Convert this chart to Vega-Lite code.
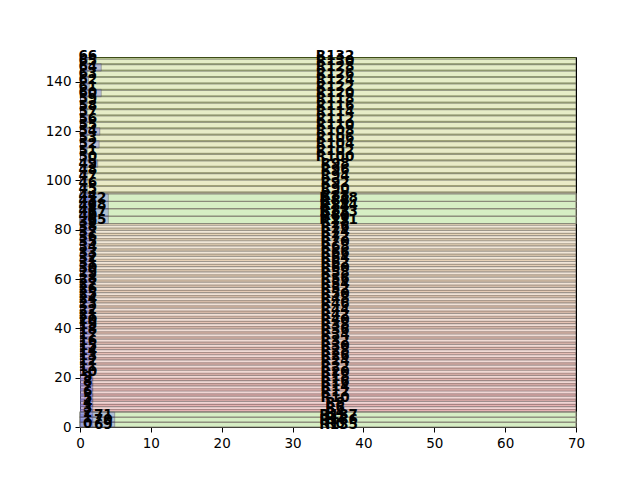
{
 "$schema": "https://vega.github.io/schema/vega-lite/v6.json",
 "width": 496, "height": 370,
 "autosize": {"type": "none"},
 "padding": {"left": 80, "top": 57, "right": 64, "bottom": 53},
 "config": {
  "view": {"stroke": "black", "strokeWidth": 1},
  "scale": {"continuousPadding": 0},
  "axis": {"labelFont": "DejaVu Sans", "labelFontSize": 13.5, "labelColor": "black", "tickColor": "black", "tickSize": 5, "tickWidth": 1, "labelPadding": 4, "labelFlush": false, "labelOverlap": false, "grid": false, "domain": false, "title": null},
  "text": {"font": "DejaVu Sans", "fontWeight": "bold", "fontSize": 13.5, "baseline": "middle"}
 },
 "datasets": {
  "a": [
   {"n":0,"r":"R0","c":1.4,"y0":-0.1,"y1":2.9,"v":1.8},{"n":1,"r":"R2","c":3.5,"y0":2.0,"y1":5.0,"v":1.8},{"n":2,"r":"R4","c":5.6,"y0":4.1,"y1":7.1,"v":1.8},{"n":3,"r":"R6","c":7.7,"y0":6.2,"y1":9.2,"v":1.8},{"n":4,"r":"R8","c":9.8,"y0":8.3,"y1":11.3,"v":1.8},
   {"n":5,"r":"R10","c":11.9,"y0":10.4,"y1":13.4,"v":1.8},{"n":6,"r":"R12","c":14.0,"y0":12.5,"y1":15.5,"v":1.8},{"n":7,"r":"R14","c":16.1,"y0":14.6,"y1":17.6,"v":1.8},{"n":8,"r":"R16","c":18.2,"y0":16.7,"y1":19.7,"v":1.8},{"n":9,"r":"R18","c":20.3,"y0":18.8,"y1":21.8,"v":1.8},
   {"n":10,"r":"R20","c":22.4,"y0":20.9,"y1":23.9,"v":1.8},{"n":11,"r":"R22","c":24.5,"y0":23.0,"y1":26.0,"v":1.8},{"n":12,"r":"R24","c":26.6,"y0":25.1,"y1":28.1,"v":1.8},{"n":13,"r":"R26","c":28.7,"y0":27.2,"y1":30.2,"v":1.8},{"n":14,"r":"R28","c":30.8,"y0":29.3,"y1":32.3,"v":1.8},
   {"n":15,"r":"R30","c":32.9,"y0":31.4,"y1":34.4,"v":1.8},{"n":16,"r":"R32","c":35.0,"y0":33.5,"y1":36.5,"v":1.8},{"n":17,"r":"R34","c":37.1,"y0":35.6,"y1":38.6,"v":1.8},{"n":18,"r":"R36","c":39.2,"y0":37.7,"y1":40.7,"v":1.8},{"n":19,"r":"R38","c":41.3,"y0":39.8,"y1":42.8,"v":1.8},
   {"n":20,"r":"R40","c":43.4,"y0":41.9,"y1":44.9,"v":1.8},{"n":21,"r":"R42","c":45.5,"y0":44.0,"y1":47.0,"v":1.8},{"n":22,"r":"R44","c":47.6,"y0":46.1,"y1":49.1,"v":1.8},{"n":23,"r":"R46","c":49.7,"y0":48.2,"y1":51.2,"v":1.8},{"n":24,"r":"R48","c":51.8,"y0":50.3,"y1":53.3,"v":1.8},
   {"n":25,"r":"R50","c":53.9,"y0":52.4,"y1":55.4,"v":1.8},{"n":26,"r":"R52","c":56.0,"y0":54.5,"y1":57.5,"v":1.8},{"n":27,"r":"R54","c":58.1,"y0":56.6,"y1":59.6,"v":1.8},{"n":28,"r":"R56","c":60.2,"y0":58.7,"y1":61.7,"v":1.8},{"n":29,"r":"R58","c":62.3,"y0":60.8,"y1":63.8,"v":1.8},
   {"n":30,"r":"R60","c":64.4,"y0":62.9,"y1":65.9,"v":1.8},{"n":31,"r":"R62","c":66.5,"y0":65.0,"y1":68.0,"v":1.8},{"n":32,"r":"R64","c":68.6,"y0":67.1,"y1":70.1,"v":1.8},{"n":33,"r":"R66","c":70.7,"y0":69.2,"y1":72.2,"v":1.8},{"n":34,"r":"R68","c":72.8,"y0":71.3,"y1":74.3,"v":1.8},
   {"n":35,"r":"R70","c":74.9,"y0":73.4,"y1":76.4,"v":1.8},{"n":36,"r":"R72","c":77.0,"y0":75.5,"y1":78.5,"v":1.8},{"n":37,"r":"R74","c":79.1,"y0":77.6,"y1":80.6,"v":1.8},{"n":38,"r":"R76","c":81.2,"y0":79.7,"y1":82.7,"v":1.8},{"n":39,"r":"R78","c":83.3,"y0":81.8,"y1":84.8,"v":1.8},
   {"n":40,"r":"R80","c":85.4,"y0":83.9,"y1":86.9,"v":1.8},{"n":41,"r":"R82","c":87.5,"y0":86.0,"y1":89.0,"v":1.8},{"n":42,"r":"R84","c":89.6,"y0":88.1,"y1":91.1,"v":1.8},{"n":43,"r":"R86","c":91.7,"y0":90.2,"y1":93.2,"v":1.8},{"n":44,"r":"R88","c":93.8,"y0":92.3,"y1":95.3,"v":1.8},
   {"n":45,"r":"R90","c":96.4,"y0":94.9,"y1":97.9,"v":1.0},{"n":46,"r":"R92","c":99.0,"y0":97.5,"y1":100.5,"v":1.0},{"n":47,"r":"R94","c":101.6,"y0":100.1,"y1":103.1,"v":1.0},{"n":48,"r":"R96","c":104.2,"y0":102.7,"y1":105.7,"v":1.0},{"n":49,"r":"R98","c":106.8,"y0":105.3,"y1":108.3,"v":2.5},
   {"n":50,"r":"R100","c":109.4,"y0":107.9,"y1":110.9,"v":1.2},{"n":51,"r":"R102","c":112.0,"y0":110.5,"y1":113.5,"v":1.0},{"n":52,"r":"R104","c":114.6,"y0":113.1,"y1":116.1,"v":2.7},{"n":53,"r":"R106","c":117.2,"y0":115.7,"y1":118.7,"v":1.0},{"n":54,"r":"R108","c":119.8,"y0":118.3,"y1":121.3,"v":2.8},
   {"n":55,"r":"R110","c":122.4,"y0":120.9,"y1":123.9,"v":1.0},{"n":56,"r":"R112","c":125.0,"y0":123.5,"y1":126.5,"v":1.5},{"n":57,"r":"R114","c":127.6,"y0":126.1,"y1":129.1,"v":1.0},{"n":58,"r":"R116","c":130.2,"y0":128.7,"y1":131.7,"v":1.0},{"n":59,"r":"R118","c":132.8,"y0":131.3,"y1":134.3,"v":1.0},
   {"n":60,"r":"R120","c":135.4,"y0":133.9,"y1":136.9,"v":3.0},{"n":61,"r":"R122","c":138.0,"y0":136.5,"y1":139.5,"v":1.3},{"n":62,"r":"R124","c":140.6,"y0":139.1,"y1":142.1,"v":1.2},{"n":63,"r":"R126","c":143.2,"y0":141.7,"y1":144.7,"v":1.0},{"n":64,"r":"R128","c":145.8,"y0":144.3,"y1":147.3,"v":3.0},
   {"n":65,"r":"R130","c":148.4,"y0":146.9,"y1":149.9,"v":1.0},{"n":66,"r":"R132","c":150.6,"y0":149.1,"y1":152.1,"v":2.3}
  ],
  "b": [
   {"n":69,"r":"R135","c":1.0,"y0":0,"y1":2,"v":4.9},
   {"n":70,"r":"R136","c":3.0,"y0":2,"y1":4,"v":4.9},
   {"n":71,"r":"R137","c":5.0,"y0":4,"y1":6,"v":4.9},
   {"n":65,"r":"R131","c":84.0,"y0":82.5,"y1":85.5,"v":4.0},
   {"n":67,"r":"R133","c":87.0,"y0":85.5,"y1":88.5,"v":4.0},
   {"n":68,"r":"R134","c":90.0,"y0":88.5,"y1":91.5,"v":4.0},
   {"n":72,"r":"R138","c":93.0,"y0":91.5,"y1":94.5,"v":4.0}
  ]
 },
 "layer": [
  {
   "data": {"name": "a"},
   "mark": {"type": "rect", "fillOpacity": 0.22, "stroke": "#505050", "strokeOpacity": 0.5, "strokeWidth": 1.2, "clip": true},
   "encoding": {
    "x": {"value": 0},
    "x2": {"value": "width"},
    "y": {"field": "y0", "type": "quantitative", "scale": {"domain": [0, 150], "nice": false, "padding": 0}, "axis": {"values": [0,20,40,60,80,100,120,140]}},
    "y2": {"field": "y1"},
    "color": {"field": "n", "type": "quantitative", "legend": null, "scale": {"domain": [0, 15, 30, 44, 45, 66], "range": ["#c03038", "#c05840", "#c08848", "#c0a050", "#a0a000", "#80b000"]}}
   }
  },
  {
   "data": {"name": "b"},
   "mark": {"type": "rect", "fill": "#d6eec4", "fillOpacity": 1, "stroke": "#8a8a7a", "strokeOpacity": 1, "strokeWidth": 1.2},
   "encoding": {
    "x": {"value": 0},
    "x2": {"value": "width"},
    "y": {"field": "y0", "type": "quantitative"},
    "y2": {"field": "y1"}
   }
  },
  {
   "data": {"name": "a"},
   "mark": {"type": "bar", "orient": "horizontal", "fill": "#6a6af0", "fillOpacity": 0.35, "stroke": "#505050", "strokeOpacity": 0.4, "strokeWidth": 1, "clip": true},
   "encoding": {
    "x": {"field": "v", "type": "quantitative", "scale": {"domain": [0, 70], "nice": false, "zero": true, "padding": 0}, "axis": {"values": [0,10,20,30,40,50,60,70]}},
    "y": {"field": "y0", "type": "quantitative"},
    "y2": {"field": "y1"}
   }
  },
  {
   "data": {"name": "b"},
   "mark": {"type": "bar", "orient": "horizontal", "fill": "#6a6af0", "fillOpacity": 0.35, "stroke": "#505050", "strokeOpacity": 0.4, "strokeWidth": 1},
   "encoding": {
    "x": {"field": "v", "type": "quantitative"},
    "y": {"field": "y0", "type": "quantitative"},
    "y2": {"field": "y1"}
   }
  },
  {
   "data": {"name": "a"},
   "mark": {"type": "text", "align": "center"},
   "encoding": {"x": {"datum": 1.1, "type": "quantitative"}, "y": {"field": "c", "type": "quantitative"}, "text": {"field": "n", "type": "nominal"}}
  },
  {
   "data": {"name": "b"},
   "mark": {"type": "text", "align": "right", "dx": -2},
   "encoding": {"x": {"field": "v", "type": "quantitative"}, "y": {"field": "c", "type": "quantitative"}, "text": {"field": "n", "type": "nominal"}}
  },
  {
   "data": {"name": "a"},
   "mark": {"type": "text", "align": "center"},
   "encoding": {"x": {"datum": 36, "type": "quantitative"}, "y": {"field": "c", "type": "quantitative"}, "text": {"field": "r", "type": "nominal"}}
  },
  {
   "data": {"name": "b"},
   "mark": {"type": "text", "align": "center"},
   "encoding": {"x": {"datum": 36.5, "type": "quantitative"}, "y": {"field": "c", "type": "quantitative"}, "text": {"field": "r", "type": "nominal"}}
  }
 ]
}
